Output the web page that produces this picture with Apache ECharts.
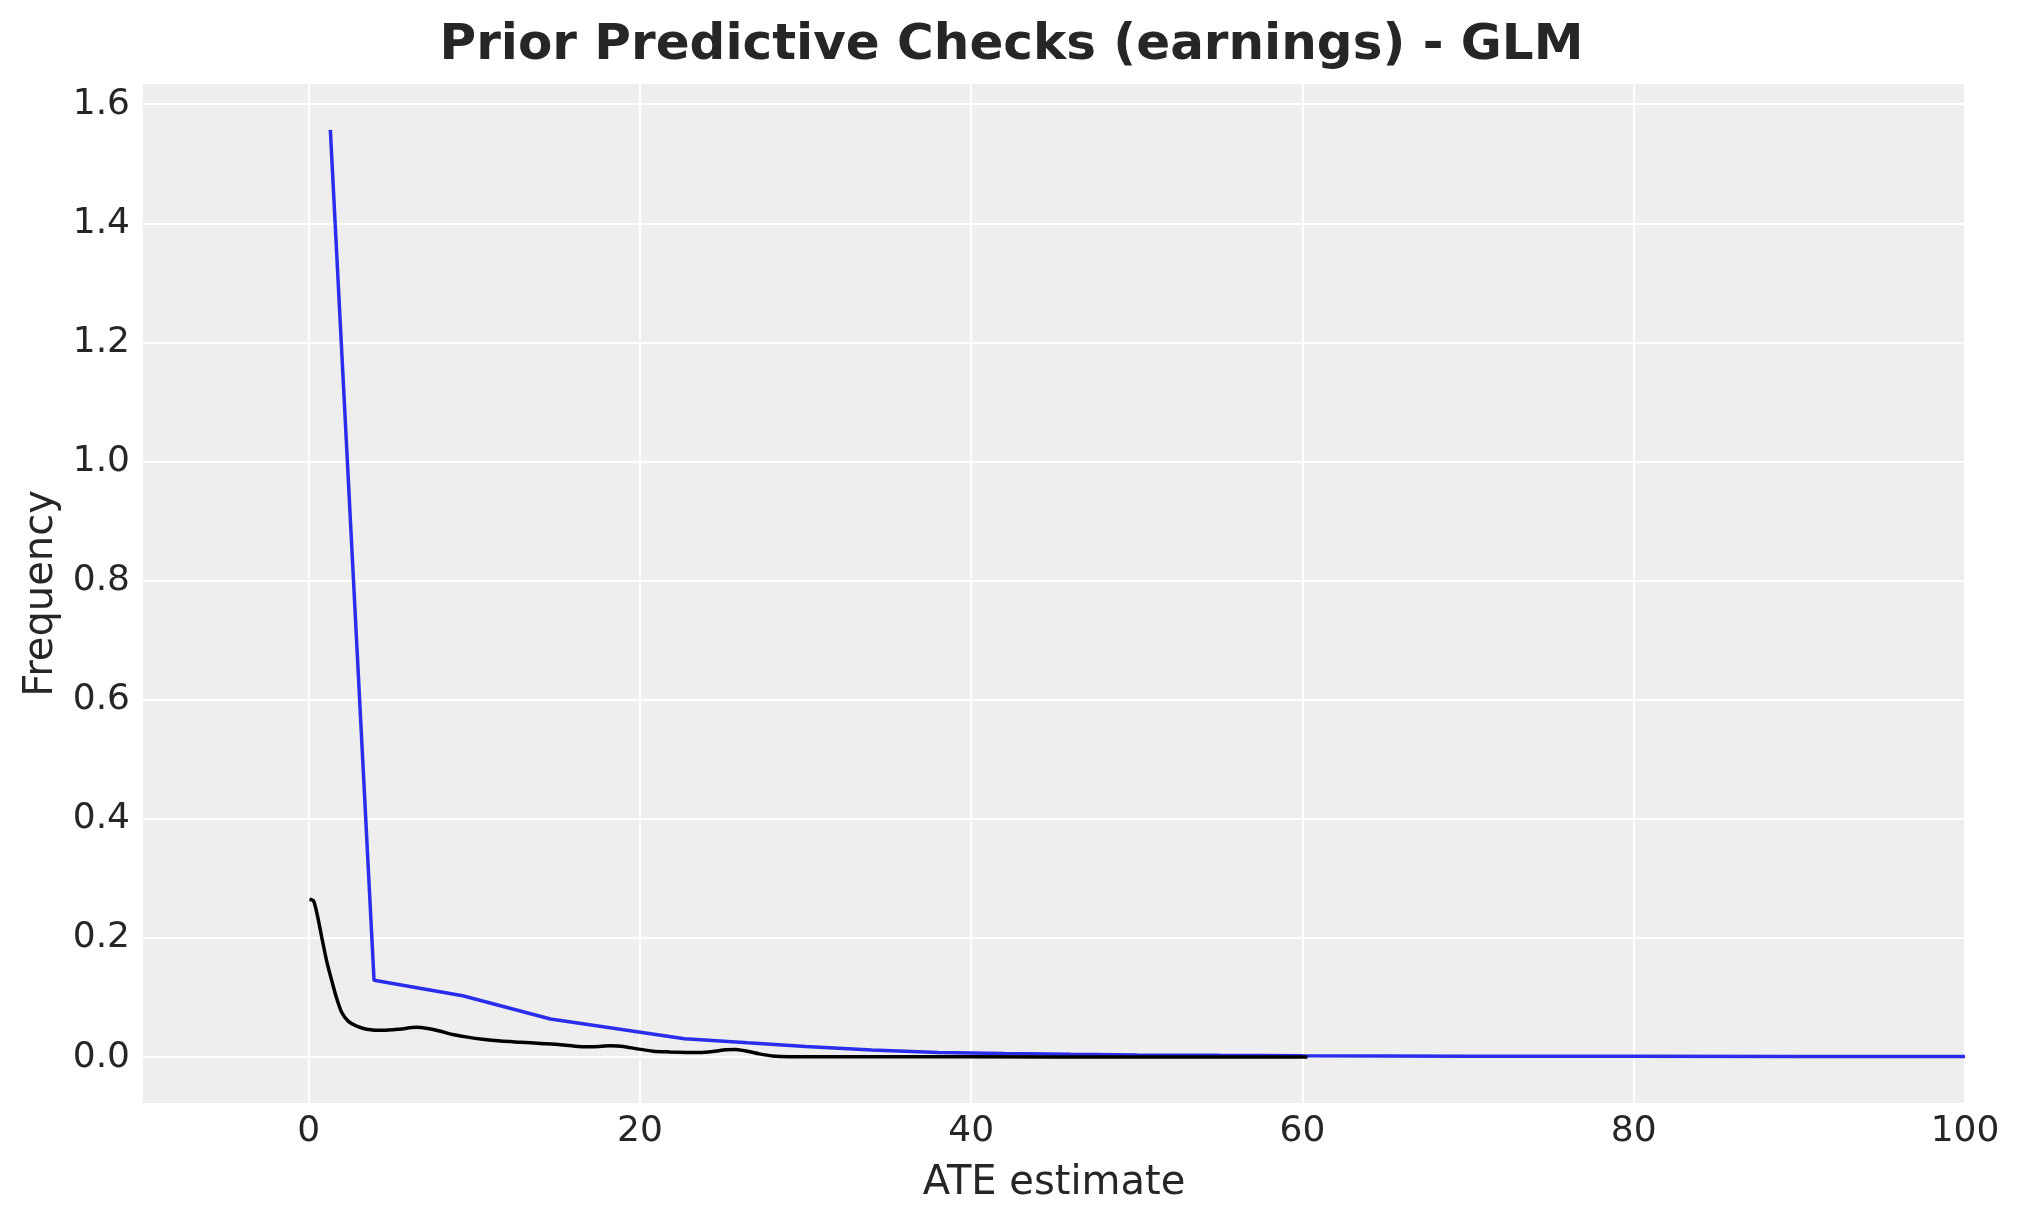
<!DOCTYPE html>
<html>
<head>
<meta charset="utf-8">
<script src="https://cdn.jsdelivr.net/npm/echarts@6/dist/echarts.min.js"></script>
<style>
html,body{margin:0;padding:0;background:#ffffff;}
#chart{width:2023px;height:1223px;}
</style>
</head>
<body>
<div id="chart"></div>
<script>
// Blue curve (prior predictive KDE, coarse grid)
const blueX = [1.31, 3.95, 9.3, 14.6, 22.7, 26.5, 30.0, 34.0, 38.0, 42.0, 46.0, 50.0, 55.0, 60.0, 70.0, 80.0, 90.0, 100.0];
const blueY = [1.557, 0.129, 0.103, 0.064, 0.031, 0.024, 0.018, 0.012, 0.008, 0.0062, 0.0048, 0.0038, 0.003, 0.0024, 0.0017, 0.0013, 0.0011, 0.001];
// Black curve (observed KDE)
const blackX = [0.05, 0.3, 0.55, 0.8, 1.1, 1.4, 1.7, 2.0, 2.4, 2.9, 3.5, 4.5, 5.5, 6.5, 7.2, 7.9, 8.7, 9.5, 10.5, 11.6, 12.8, 14.0, 15.2, 16.3, 17.2, 18.2, 19.0, 19.8, 20.8, 21.8, 22.8, 23.6, 24.4, 25.2, 25.8, 26.5, 27.2, 28.0, 29.0, 32.0, 40.0, 50.0, 60.3];
const blackY = [0.265, 0.262, 0.235, 0.200, 0.160, 0.128, 0.098, 0.075, 0.060, 0.052, 0.047, 0.045, 0.047, 0.050, 0.048, 0.044, 0.038, 0.034, 0.030, 0.027, 0.025, 0.023, 0.021, 0.018, 0.0175, 0.019, 0.018, 0.014, 0.010, 0.0088, 0.008, 0.0078, 0.0095, 0.0125, 0.013, 0.010, 0.0055, 0.002, 0.0008, 0.0006, 0.0005, 0.0004, 0.0004];
// Tick labels
const xTicks = [0, 20, 40, 60, 80, 100];
const yTicks = [0.0, 0.2, 0.4, 0.6, 0.8, 1.0, 1.2, 1.4, 1.6];

const titleText = 'Prior Predictive Checks (earnings) - GLM';
const xName = 'ATE estimate';
const yName = 'Frequency';

const pairs = (xs, ys) => xs.map((x, i) => [x, ys[i]]);
const txt = '#262626';
const font = 'DejaVu Sans';

function isTick(list, v) {
  return list.some(t => Math.abs(t - v) < 1e-6);
}

const chart = echarts.init(document.getElementById('chart'), null, {renderer: 'canvas'});
chart.setOption({
  animation: false,
  backgroundColor: '#ffffff',
  title: {
    text: titleText,
    left: 'center',
    top: 16,
    textStyle: {fontFamily: font, fontSize: 50, fontWeight: 'bold', color: txt}
  },
  grid: {
    left: 143, right: 58, top: 84, bottom: 120,
    show: true, backgroundColor: '#eeeeee', borderWidth: 0
  },
  xAxis: {
    type: 'value',
    min: -10, max: 100,
    splitNumber: 5,
    name: xName,
    nameLocation: 'middle',
    nameGap: 61,
    nameTextStyle: {fontFamily: font, fontSize: 40, color: txt},
    axisLine: {show: false},
    axisTick: {show: false},
    axisLabel: {
      fontFamily: font, fontSize: 36, color: txt, margin: 11,
      showMinLabel: false,
      formatter: v => isTick(xTicks, v) ? String(Math.round(v)) : ''
    },
    splitLine: {show: true, showMinLine: false, lineStyle: {color: '#ffffff', width: 2}}
  },
  yAxis: {
    type: 'value',
    min: -0.077, max: 1.634,
    splitNumber: 8,
    name: yName,
    nameLocation: 'middle',
    nameGap: 77,
    nameTextStyle: {fontFamily: font, fontSize: 40, color: txt},
    axisLine: {show: false},
    axisTick: {show: false},
    axisLabel: {
      fontFamily: font, fontSize: 36, color: txt, margin: 13,
      showMinLabel: false, showMaxLabel: false,
      formatter: v => isTick(yTicks, v) ? v.toFixed(1) : ''
    },
    splitLine: {show: true, showMinLine: false, showMaxLine: false, lineStyle: {color: '#ffffff', width: 2}}
  },
  series: [
    {
      type: 'line',
      data: pairs(blueX, blueY),
      showSymbol: false,
      smooth: false,
      clip: true,
      lineStyle: {color: '#2a2eec', width: 3.5},
      itemStyle: {color: '#2a2eec'}
    },
    {
      type: 'line',
      data: pairs(blackX, blackY),
      showSymbol: false,
      smooth: 0.25,
      clip: true,
      lineStyle: {color: '#000000', width: 3.5},
      itemStyle: {color: '#000000'}
    }
  ]
});
</script>
</body>
</html>
